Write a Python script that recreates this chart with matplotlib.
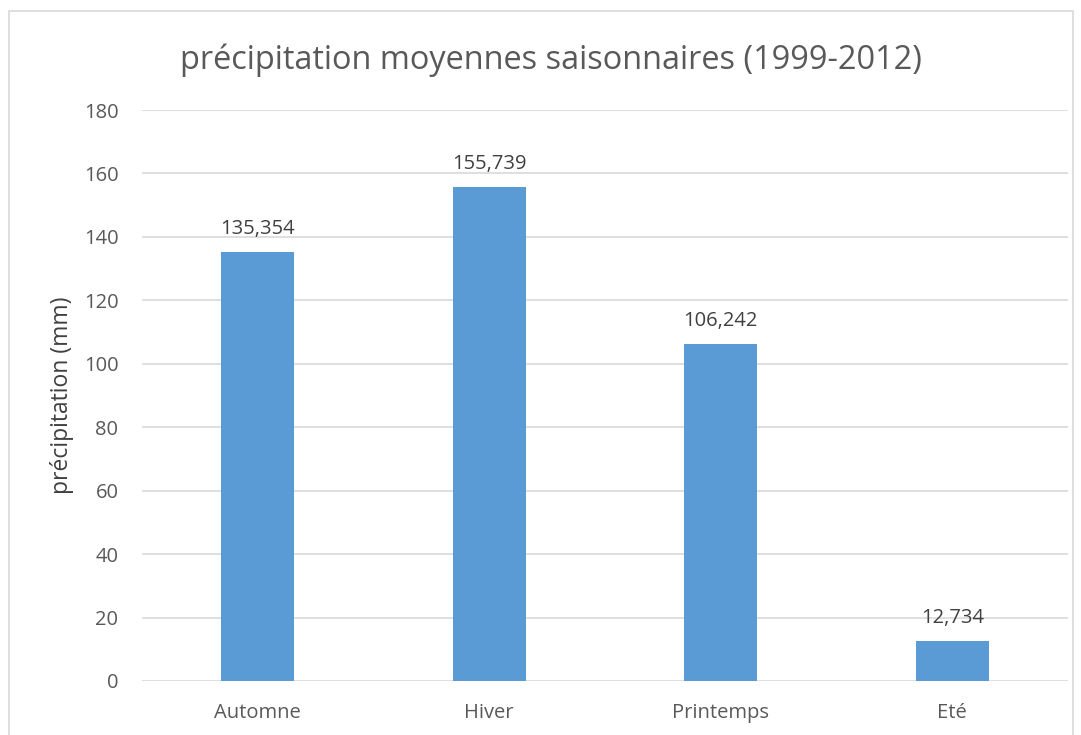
import matplotlib
matplotlib.use("Agg")
import matplotlib.pyplot as plt
from matplotlib.patches import Rectangle

categories = ["Automne", "Hiver", "Printemps", "Eté"]
values = [135.354, 155.739, 106.242, 12.734]
labels = ["135,354", "155,739", "106,242", "12,734"]
yticks = [0, 20, 40, 60, 80, 100, 120, 140, 160, 180]

plt.rcParams['font.family'] = ['Open Sans', 'DejaVu Sans']
txt = "#595959"

fig = plt.figure(figsize=(10.81, 7.35), dpi=100)
ax = fig.add_axes([142/1081, 1-681/735, (1068-142)/1081, (681-110)/735])

x = list(range(len(categories)))
bars = ax.bar(x, values, width=0.315, color="#5B9BD5", zorder=3)
for b, lab in zip(bars, labels):
    ax.annotate(lab, (b.get_x()+b.get_width()/2, b.get_height()), xytext=(0, 9),
                textcoords="offset points", ha="center", va="bottom",
                fontsize=14.5, color="#404040")

ax.set_xlim(-0.5, len(categories)-0.5)
ax.set_ylim(0, 180)
ax.set_yticks(yticks)
ax.set_xticks(x)
ax.set_xticklabels(categories)
ax.tick_params(axis="both", length=0, labelsize=14.5, colors=txt)
ax.tick_params(axis="y", pad=17)
ax.tick_params(axis="x", pad=16)
ax.grid(axis="y", color="#D9D9D9", linewidth=1.2, zorder=0)
for s in ax.spines.values():
    s.set_visible(False)
ax.set_ylabel("précipitation (mm)", fontsize=16.5, color="#404040", labelpad=7)

fig.text(551/1081, 1-60/735, "précipitation moyennes saisonnaires (1999-2012)",
         ha="center", va="center", fontsize=23.4, color=txt)

fig.patches.append(Rectangle((9/1081, -0.05), (1073-9)/1081, 1.05-11/735,
                             transform=fig.transFigure, fill=False,
                             edgecolor="#D9D9D9", linewidth=1.2))

fig.savefig("out.png", dpi=100)
